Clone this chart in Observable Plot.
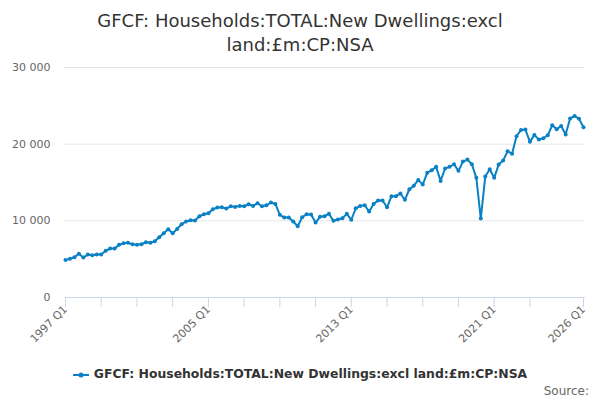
<!DOCTYPE html>
<html>
<head>
<meta charset="utf-8">
<script src="https://cdn.jsdelivr.net/npm/d3@7"></script>
<script src="https://cdn.jsdelivr.net/npm/@observablehq/plot@0.6"></script>
<style>
  body { margin: 0; width: 600px; height: 400px; overflow: hidden; background: #fff; font-family: "DejaVu Sans", sans-serif; }
  #title { height: 58px; box-sizing: border-box; padding-top: 9px; text-align: center; font-size: 18px; line-height: 24px; color: #333; }
  #legend { position: absolute; top: 366px; left: 0; width: 600px; text-align: center; font-size: 12.4px; font-weight: bold; color: #333; }
  #legend svg { vertical-align: middle; margin-right: 5px; }
  #source { position: absolute; top: 384px; right: 11px; font-size: 12px; color: #666; }
  #chart { position: absolute; top: 58px; left: 0; }
</style>
</head>
<body>
<div id="title">GFCF: Households:TOTAL:New Dwellings:excl<br>land:£m:CP:NSA</div>
<div id="chart"></div>
<div id="legend"><svg width="16" height="10"><line x1="0" y1="5" x2="16" y2="5" stroke="#0a80c5" stroke-width="2"/><circle cx="8" cy="5" r="2.5" fill="#0a80c5"/></svg>GFCF: Households:TOTAL:New Dwellings:excl land:£m:CP:NSA</div>
<div id="source">Source:</div>
<script>
const startYear = 1997;
const values = [
  4900, 5040, 5250, 5700, 5210, 5600, 5520, 5600, 5600, 6090,
  6390, 6390, 6870, 7080, 7130, 6950, 6870, 6950, 7210, 7130,
  7340, 7860, 8380, 8900, 8380, 8940, 9560, 9910, 10080, 10040,
  10600, 10860, 10990, 11510, 11730, 11770, 11600, 11900, 11820, 11950,
  11900, 12160, 11950, 12290, 11900, 12030, 12390, 12200, 10780, 10430,
  10430, 9910, 9300, 10470, 10860, 10820, 9780, 10520, 10600, 10910,
  10000, 10170, 10340, 10910, 10130, 11640, 11950, 12030, 11210, 12210,
  12650, 12650, 11770, 13210, 13210, 13560, 12740, 14120, 14560, 15340,
  14730, 16260, 16600, 17040, 15210, 16820, 17040, 17380, 16520, 17730,
  17990, 17380, 15610, 10300, 15780, 16730, 15610, 17340, 17860, 19080,
  18740, 21030, 21860, 21900, 20300, 21210, 20600, 20770, 21160, 22460,
  21940, 22380, 21250, 23340, 23690, 23300, 22200
];
const quarters = values.map((_, i) => `${startYear + Math.floor(i / 4)} Q${(i % 4) + 1}`);
const yTicks = [0, 10000, 20000, 30000];
const xLabelIdx = [0, 32, 64, 96, 116];
const xTickIdx = [0, 8, 16, 24, 32, 40, 48, 56, 64, 72, 80, 88, 96, 104, 116];

const data = values.map((v, i) => ({i, q: quarters[i], v}));
const color = "#0a80c5";
const fmt = d => d3.format(",")(d).replace(/,/g, " ");

const chart = Plot.plot({
  width: 600,
  height: 300,
  marginTop: 9,
  marginBottom: 61,
  marginLeft: 65,
  marginRight: 17,
  style: {fontFamily: "DejaVu Sans, sans-serif", fontSize: "11px", color: "#666"},
  x: {domain: [0, 116]},
  y: {domain: [0, 30000]},
  marks: [
    Plot.ruleY([10000, 20000, 30000], {stroke: "#e6e6e6", strokeWidth: 1, x1: -0.3, x2: 116.2}),
    Plot.axisY(yTicks, {tickSize: 0, tickPadding: 15, tickFormat: fmt, fill: "#666", label: null}),
    Plot.ruleY([0], {stroke: "#ccd6eb", strokeWidth: 1, x1: 0, x2: 116.5}),
    Plot.axisX(xTickIdx, {tickSize: 10, stroke: "#ccd6eb", tickFormat: () => "", label: null}),
    Plot.axisX(xLabelIdx, {tickSize: 0, tickPadding: 10, tickRotate: -45, tickFormat: d => quarters[d], fill: "#666", label: null}),
    Plot.line(data, {x: "i", y: "v", stroke: color, strokeWidth: 2}),
    Plot.dot(data, {x: "i", y: "v", fill: color, r: 2})
  ]
});
document.getElementById("chart").appendChild(chart);
</script>
</body>
</html>
